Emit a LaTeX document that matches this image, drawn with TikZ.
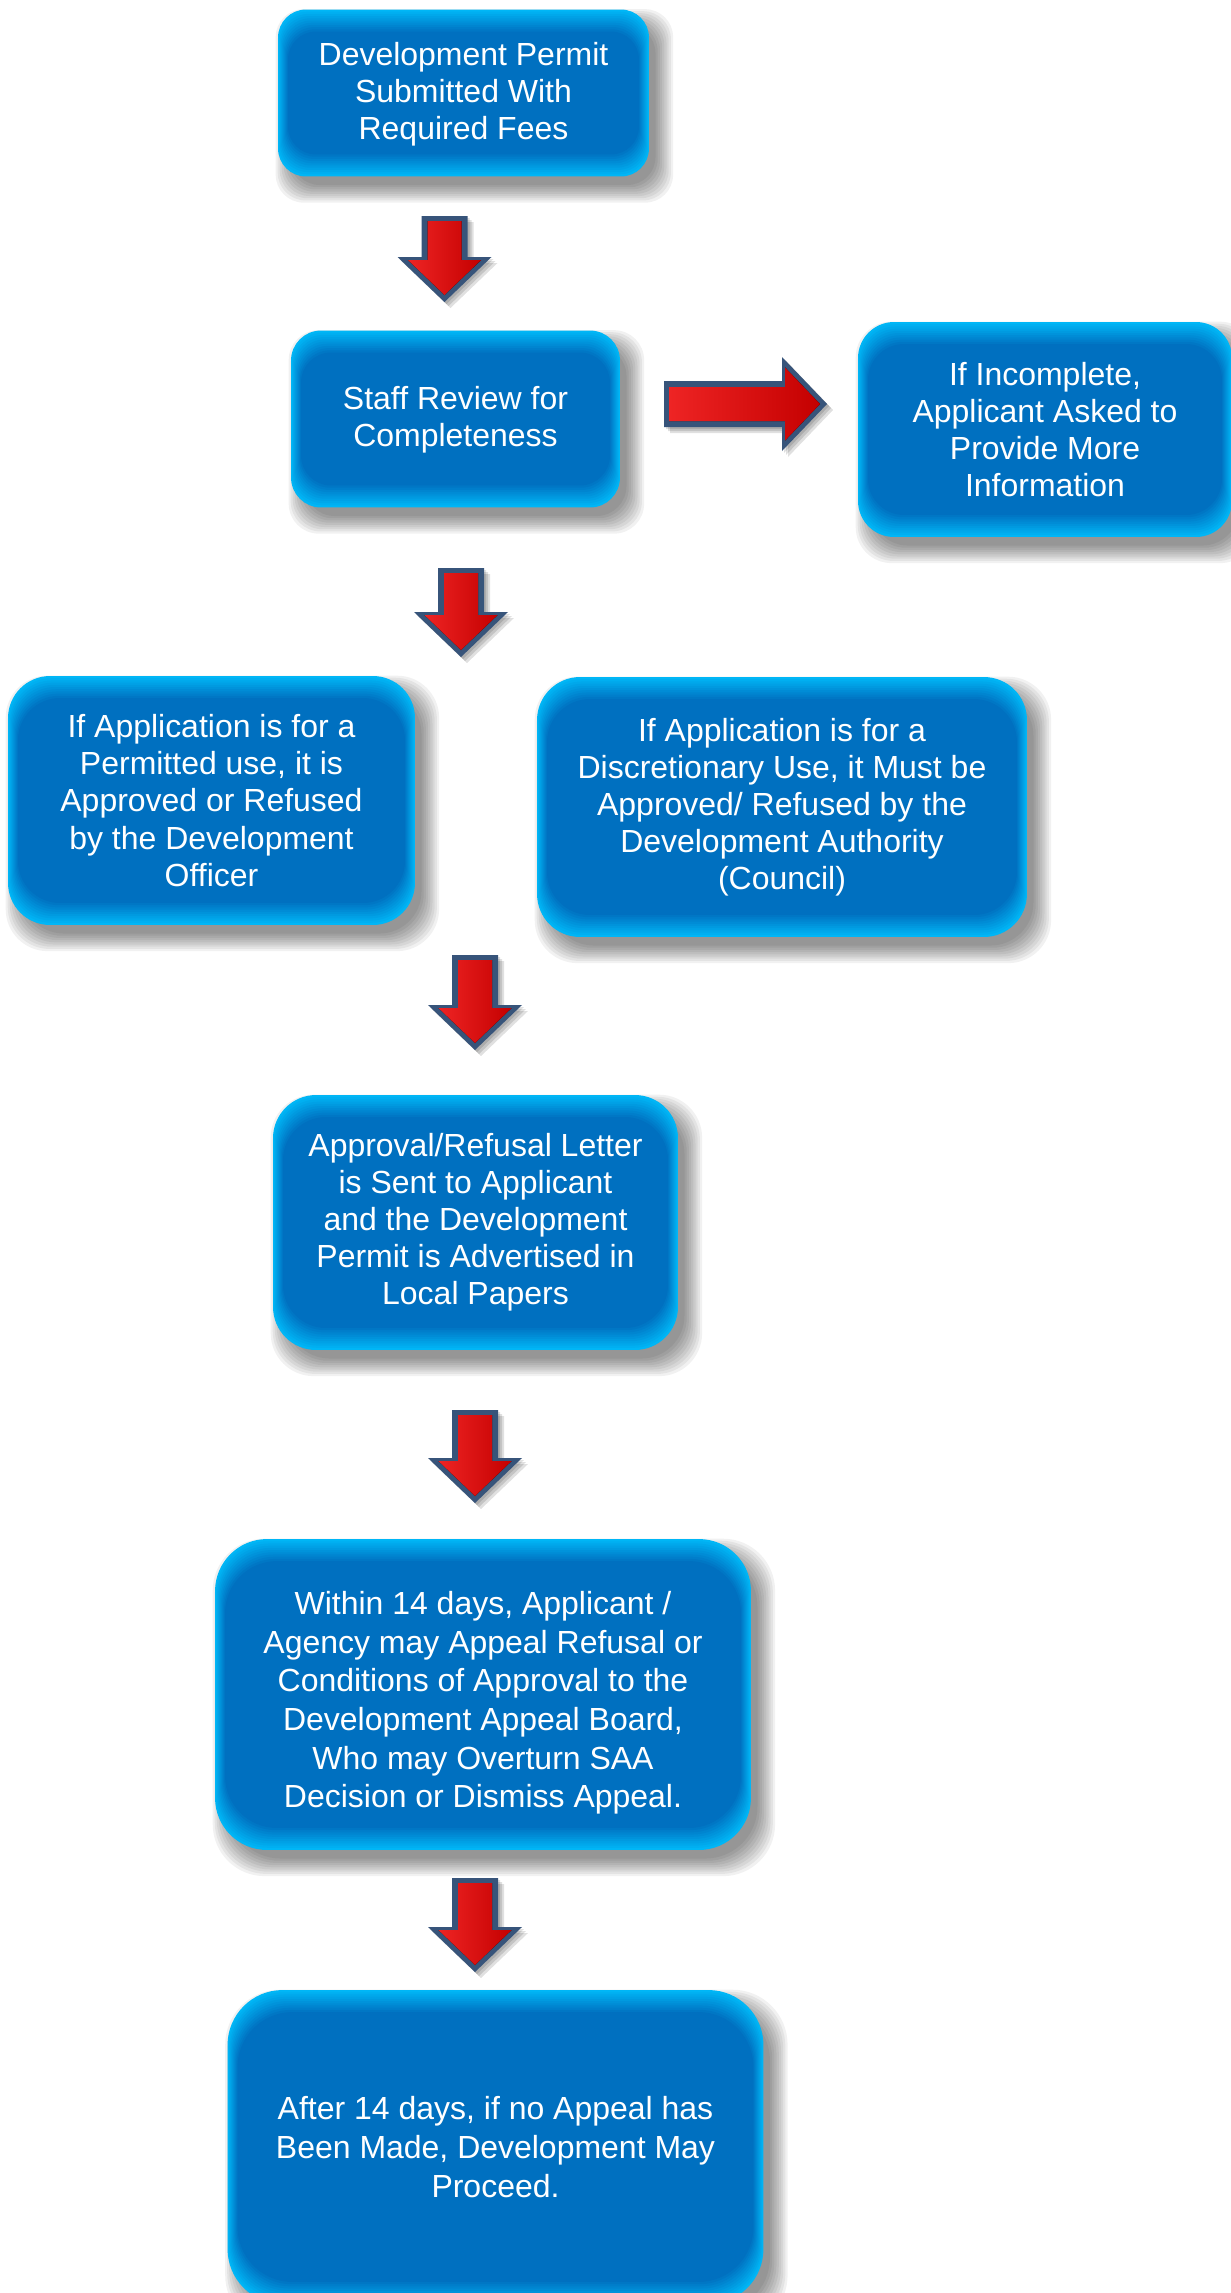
\documentclass[tikz,border=0pt]{standalone}
\usepackage{fontspec}
\setmainfont{Liberation Sans}
\usetikzlibrary{calc,backgrounds}
\definecolor{boxblue}{RGB}{0,112,192}
\definecolor{edgeblue}{RGB}{0,182,246}
\definecolor{arrowedge}{RGB}{55,84,122}
\definecolor{arrowred}{RGB}{196,0,0}
\definecolor{arrowlight}{RGB}{238,36,36}
\tikzset{
  stage/.style={rounded corners=#1, fill=edgeblue, text=white, align=center,
    inner sep=0pt, font=\fontsize{18.2}{21.1}\selectfont,
    path picture={
      \foreach \k in {1,...,10}{
        \pgfmathtruncatemacro\mix{100-10*\k}
        \fill[edgeblue!\mix!boxblue, rounded corners=#1]
          ($(path picture bounding box.north west)+(\k,2.2*\k)$) rectangle
          ($(path picture bounding box.south east)-(\k,2.2*\k)$);
      }}},
  tallfont/.style={font=\fontsize{18.2}{22}\selectfont},
  haze/.style={black, opacity=.055}
}
% outline of a block arrow pointing down, #1 = length
\newcommand{\arrowpath}[1]{(-23,0) -- (23,0) -- (23,#1-45) -- (47,#1-45) -- (0,#1) -- (-47,#1-45) -- (-23,#1-45) -- cycle}
% block arrow: x, y of the tail, rotation, length
\newcommand{\redarrow}[4]{%
  \foreach \s in {2,4,6}{
    \begin{scope}[shift={(#1+\s,#2+\s)}, rotate=#3]
      \fill[black, opacity=.12] \arrowpath{#4};
    \end{scope}}
  \begin{scope}[shift={(#1,#2)}, rotate=#3]
    \fill[arrowedge] \arrowpath{#4};
    \fill[left color=arrowlight, right color=arrowred]
      (-17,5) -- (17,5) -- (17,#4-42) -- (36.6,#4-42) -- (0,#4-7) -- (-36.6,#4-42) -- (-17,#4-42) -- cycle;
  \end{scope}}

\begin{document}
\begin{tikzpicture}[x=0.02cm, y=-0.02cm]
  \useasboundingbox (0,0) rectangle (1231,2293);

  \node[stage=0.56cm, minimum width=7.42cm, minimum height=3.34cm] (submit) at (463.5,93)
    {\rule{0pt}{0.5cm}Development Permit\\Submitted With\\Required Fees};
  \node[stage=0.6cm, minimum width=6.58cm, minimum height=3.54cm] (review) at (455.5,419)
    {\rule{0pt}{0.5cm}Staff Review for\\Completeness};
  \node[stage=0.72cm, minimum width=7.48cm, minimum height=4.3cm] (incomplete) at (1045,429.5)
    {If Incomplete,\\Applicant Asked to\\Provide More\\Information};
  \node[stage=0.84cm, minimum width=8.14cm, minimum height=4.98cm] (permitted) at (211.5,800.5)
    {If Application is for a\\Permitted use, it is\\Approved or Refused\\by the Development\\Officer};
  \node[stage=0.86cm, minimum width=9.8cm, minimum height=5.2cm] (discretion) at (782,807)
    {If Application is for a\\Discretionary Use, it Must be\\Approved/ Refused by the\\Development Authority\\(Council)};
  \node[stage=0.86cm, minimum width=8.1cm, minimum height=5.1cm] (letter) at (475.5,1222.5)
    {Approval/Refusal Letter\\is Sent to Applicant\\and the Development\\Permit is Advertised in\\Local Papers};
  \node[stage=1.04cm, tallfont, minimum width=10.72cm, minimum height=6.22cm] (appeal) at (483,1694.5)
    {\rule{0pt}{0.8cm}Within 14 days, Applicant /\\Agency may Appeal Refusal or\\Conditions of Approval to the\\Development Appeal Board,\\Who may Overturn SAA\\Decision or Dismiss Appeal.};
  \node[stage=1.1cm, tallfont, minimum width=10.72cm, minimum height=6.28cm] (proceed) at (495.5,2147)
    {After 14 days, if no Appeal has\\Been Made, Development May\\Proceed.};

  % soft shadows behind the boxes
  \begin{scope}[on background layer]
    \fill[white] (0,0) rectangle (1231,2293);
    \foreach \n/\r in {submit/0.56cm, review/0.6cm, incomplete/0.72cm, permitted/0.84cm,
        discretion/0.86cm, letter/0.86cm, appeal/1.04cm, proceed/1.1cm}{
      \foreach \s in {1,...,9}{
        \fill[haze, rounded corners=\r]
          ($(\n.north west)+(16-2*\s,18-2*\s)$) rectangle ($(\n.south east)+(4+2.2*\s,6+2.2*\s)$);
      }}
  \end{scope}

  \redarrow{444.5}{216}{0}{86}
  \redarrow{664}{404}{90}{163}
  \redarrow{461}{568}{0}{89}
  \redarrow{475}{955}{0}{95}
  \redarrow{475}{1410}{0}{93}
  \redarrow{475}{1878}{0}{94}
\end{tikzpicture}
\end{document}
